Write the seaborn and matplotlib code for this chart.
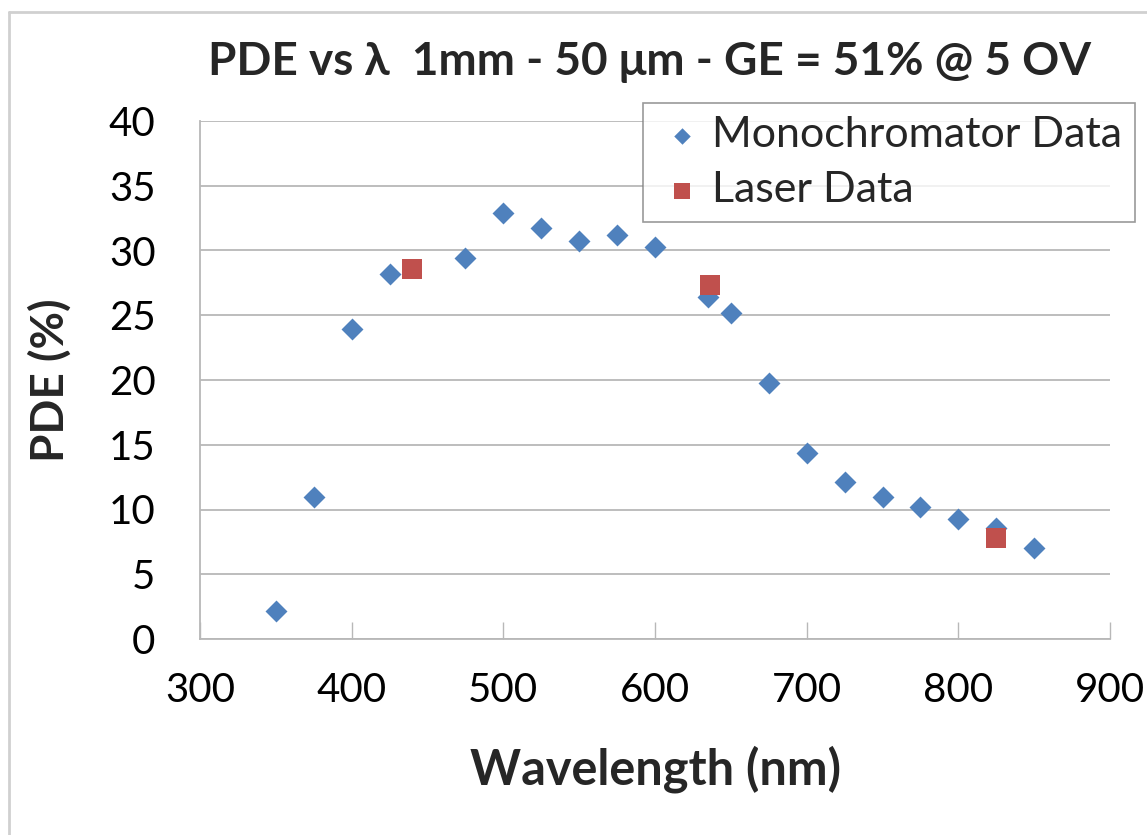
import numpy as np
import pandas as pd
import matplotlib
matplotlib.use("Agg")
import matplotlib.pyplot as plt
import seaborn as sns
from matplotlib.lines import Line2D

# Data
mono_wl = [350, 375, 400, 425, 475, 500, 525, 550, 575, 600,
           635, 650, 675, 700, 725, 750, 775, 800, 825, 850]
mono_pde = [2.2, 11.0, 23.9, 28.2, 29.4, 32.9, 31.7, 30.7, 31.2, 30.3,
            26.4, 25.2, 19.8, 14.4, 12.1, 11.0, 10.2, 9.3, 8.6, 7.0]
laser_wl = [440, 636, 825]
laser_pde = [28.6, 27.3, 7.8]

x_ticks = [300, 400, 500, 600, 700, 800, 900]
y_ticks = [0, 5, 10, 15, 20, 25, 30, 35, 40]

blue = "#4F81BD"
red = "#C0504D"
grey = "#B8B8B8"

sns.set_theme(style="white")
plt.rcParams["font.family"] = ["Lato", "DejaVu Sans"]

mono = pd.DataFrame({"wl": mono_wl, "pde": mono_pde})
laser = pd.DataFrame({"wl": laser_wl, "pde": laser_pde})

fig = plt.figure(figsize=(11.47, 8.35), dpi=100)
ax = fig.add_axes([200 / 1147, 1 - 639 / 835, 910 / 1147, 518 / 835])

sns.scatterplot(data=mono, x="wl", y="pde", marker="D", s=125, color=blue,
                linewidth=0, ax=ax, label="Monochromator Data", zorder=3)
sns.scatterplot(data=laser, x="wl", y="pde", marker="s", s=220, color=red,
                linewidth=0, ax=ax, label="Laser Data", zorder=4)

ax.set_xlim(300, 900)
ax.set_ylim(0, 40)
ax.set_xticks(x_ticks)
ax.set_yticks(y_ticks)
ax.yaxis.grid(True, color=grey, linewidth=1.3)
ax.xaxis.grid(False)
for side in ["top", "right"]:
    ax.spines[side].set_visible(False)
for side in ["left", "bottom"]:
    ax.spines[side].set_color(grey)
    ax.spines[side].set_linewidth(1.3)

ax.tick_params(axis="x", direction="in", length=12, width=1, color=grey,
               pad=24, labelsize=29, labelcolor="black", bottom=True)
ax.tick_params(axis="y", length=0, pad=32, labelsize=29, labelcolor="black")

ax.set_xlabel("Wavelength (nm)", fontsize=35, fontweight="bold", labelpad=26)
ax.set_ylabel("PDE (%)", fontsize=33, fontweight="bold", labelpad=27)

fig.text(650 / 1147, 1 - 62 / 835, "PDE vs λ  1mm - 50 μm - GE = 51% @ 5 OV",
         ha="center", va="center", fontsize=33, fontweight="bold")

leg = ax.legend(loc="upper right", bbox_to_anchor=(1135 / 1147, 1 - 103 / 835),
                bbox_transform=fig.transFigure, borderaxespad=0, fontsize=31,
                frameon=True, fancybox=False, handlelength=1.2,
                handletextpad=0.1, markerscale=0.75, borderpad=0.3,
                labelspacing=0.4)
leg.get_frame().set_edgecolor("#808080")
leg.get_frame().set_linewidth(1.2)

# light outer border of the chart area
fig.add_artist(Line2D([9 / 1147, 9 / 1147], [0, 1 - 12 / 835],
                      transform=fig.transFigure, color="#D0D0D0", linewidth=2))
fig.add_artist(Line2D([9 / 1147, 1], [1 - 12 / 835, 1 - 12 / 835],
                      transform=fig.transFigure, color="#D0D0D0", linewidth=2))

fig.savefig("out.png", dpi=100)
